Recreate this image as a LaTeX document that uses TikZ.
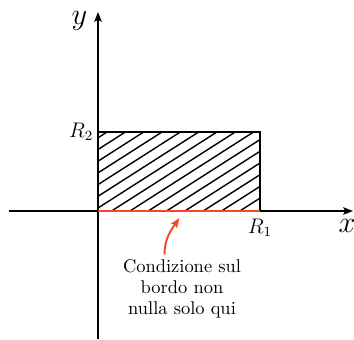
\documentclass[tikz,border=0pt]{standalone}
\usetikzlibrary{arrows.meta}
\definecolor{bordorosso}{RGB}{245,72,38}

\begin{document}
\begin{tikzpicture}[
  >={Stealth[length=5.5pt, width=4.2pt, inset=1pt]},
  every node/.style={font=\fontsize{10.5}{12}\selectfont},
  etichetta/.style={font=\fontsize{11.5}{13}\selectfont},
  asse/.style={->, line width=1pt},
  tratteggio/.style={line width=0.8pt},
  freccia/.style={->, line width=1.1pt, bordorosso},
]
\useasboundingbox (-1.96,-2.56) rectangle (5.12,4.22);
\coordinate (O) at (0,0);
\coordinate (xa) at (-1.78,0);
\coordinate (xb) at (5.1,0);
\coordinate (ya) at (0,-2.56);
\coordinate (yb) at (0,3.98);
\coordinate (R1) at (3.24,0);
\coordinate (R2) at (0,1.58);
\begin{scope}
  \clip (O) rectangle (3.24,1.58);
  \foreach \k in {-10,...,7}
    \draw[tratteggio] (0,0.06+0.234*\k) -- (3.24,0.06+0.234*\k+2.07);
\end{scope}
\draw[line width=1pt] (O) rectangle (3.24,1.58);
\draw[asse] (xa) -- (xb);
\draw[asse] (ya) -- (yb);
\draw[line width=1.1pt, bordorosso] (O) -- (R1);
\node[font=\LARGE] (xlab) at (4.98,-0.29) {$x$};
\node[font=\LARGE] (ylab) at (-0.37,3.8) {$y$};
\node[etichetta, left, inner sep=2.5pt] (r2lab) at (R2) {$R_2$};
\node[etichetta] (r1lab) at (3.24,-0.33) {$R_1$};
\node[align=center] (testo) at (1.68,-1.56)
  {Condizione sul\\bordo non\\nulla solo qui};
\coordinate (partenza) at (1.33,-0.87);
\coordinate (punta) at (1.63,-0.14);
\draw[freccia] (partenza) to[out=90, in=235] (punta);
\end{tikzpicture}
\end{document}
